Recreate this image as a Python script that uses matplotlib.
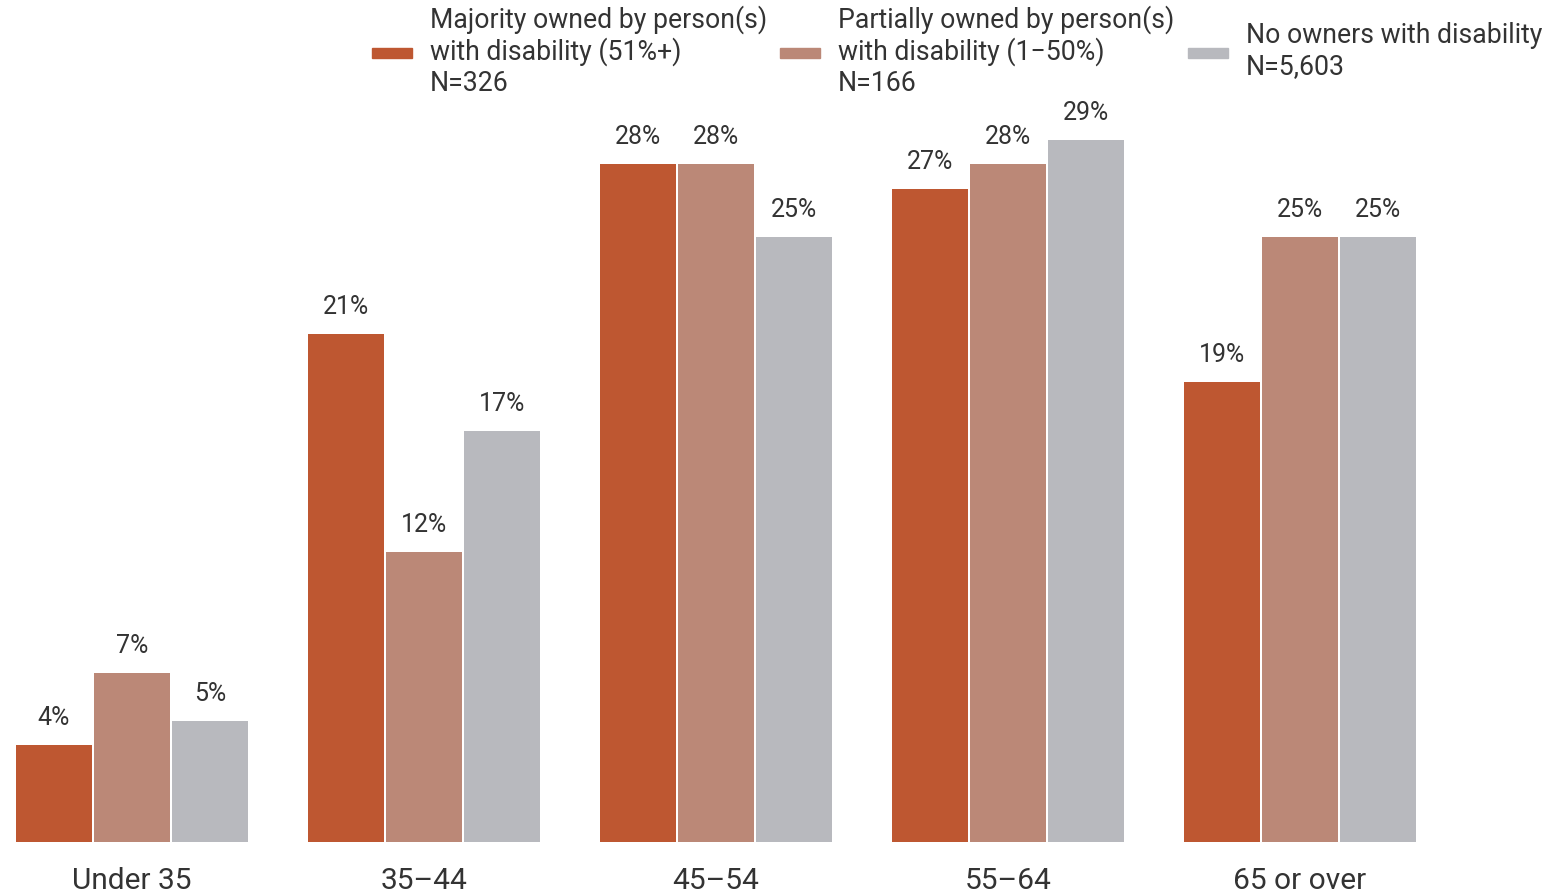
import matplotlib.pyplot as plt
from matplotlib.patches import Rectangle
import numpy as np

plt.rcParams['font.family'] = ['Roboto', 'DejaVu Sans']

# data
age_groups = ['Under 35', '35\u201344', '45\u201354', '55\u201364', '65 or over']
majority = [4, 21, 28, 27, 19]
partial = [7, 12, 28, 28, 25]
no_owners = [5, 17, 25, 29, 25]
series_labels = ['Majority owned by person(s)\nwith disability (51%+)\nN=326',
                 'Partially owned by person(s)\nwith disability (1\u221250%)\nN=166',
                 'No owners with disability\nN=5,603']
colors = ['#BE5731', '#BB8877', '#B8B9BE']
text_color = '#333333'

W, H = 1555, 893
fig = plt.figure(figsize=(W / 100, H / 100), dpi=100)
base_px = 842
ax = fig.add_axes([0, 1 - base_px / H, 1, base_px / H])

x = np.arange(len(age_groups))
step = 78 / 292
width = 76 / 292
for i, (vals, c) in enumerate(zip([majority, partial, no_owners], colors)):
    pos = x + (i - 1) * step
    ax.bar(pos, vals, width=width, color=c, edgecolor='none')
    for xp, v in zip(pos, vals):
        ax.annotate(f'{v}%', (xp, v), xytext=(0, 19.5), textcoords='offset points',
                    ha='center', va='center', fontsize=18, color=text_color)

ax.set_xlim(-132 / 292, (W - 132) / 292)
ax.set_ylim(0, base_px / 24.2)
ax.set_xticks(x)
ax.set_xticklabels(age_groups, fontsize=21.5, color=text_color)
ax.tick_params(axis='x', length=0, pad=18)
ax.set_yticks([])
for s in ax.spines.values():
    s.set_visible(False)

# legend drawn by hand
for i, (lab, c) in enumerate(zip(series_labels, colors)):
    x0 = 372 + i * 408
    fig.patches.append(Rectangle((x0 / W, 1 - 58 / H), 40 / W, 10 / H,
                                 transform=fig.transFigure, color=c))
    fig.text((x0 + 58) / W, 1 - 51 / H, lab, ha='left', va='center',
             fontsize=19.2, color=text_color, linespacing=1.17)

fig.savefig('out.png', dpi=100)
